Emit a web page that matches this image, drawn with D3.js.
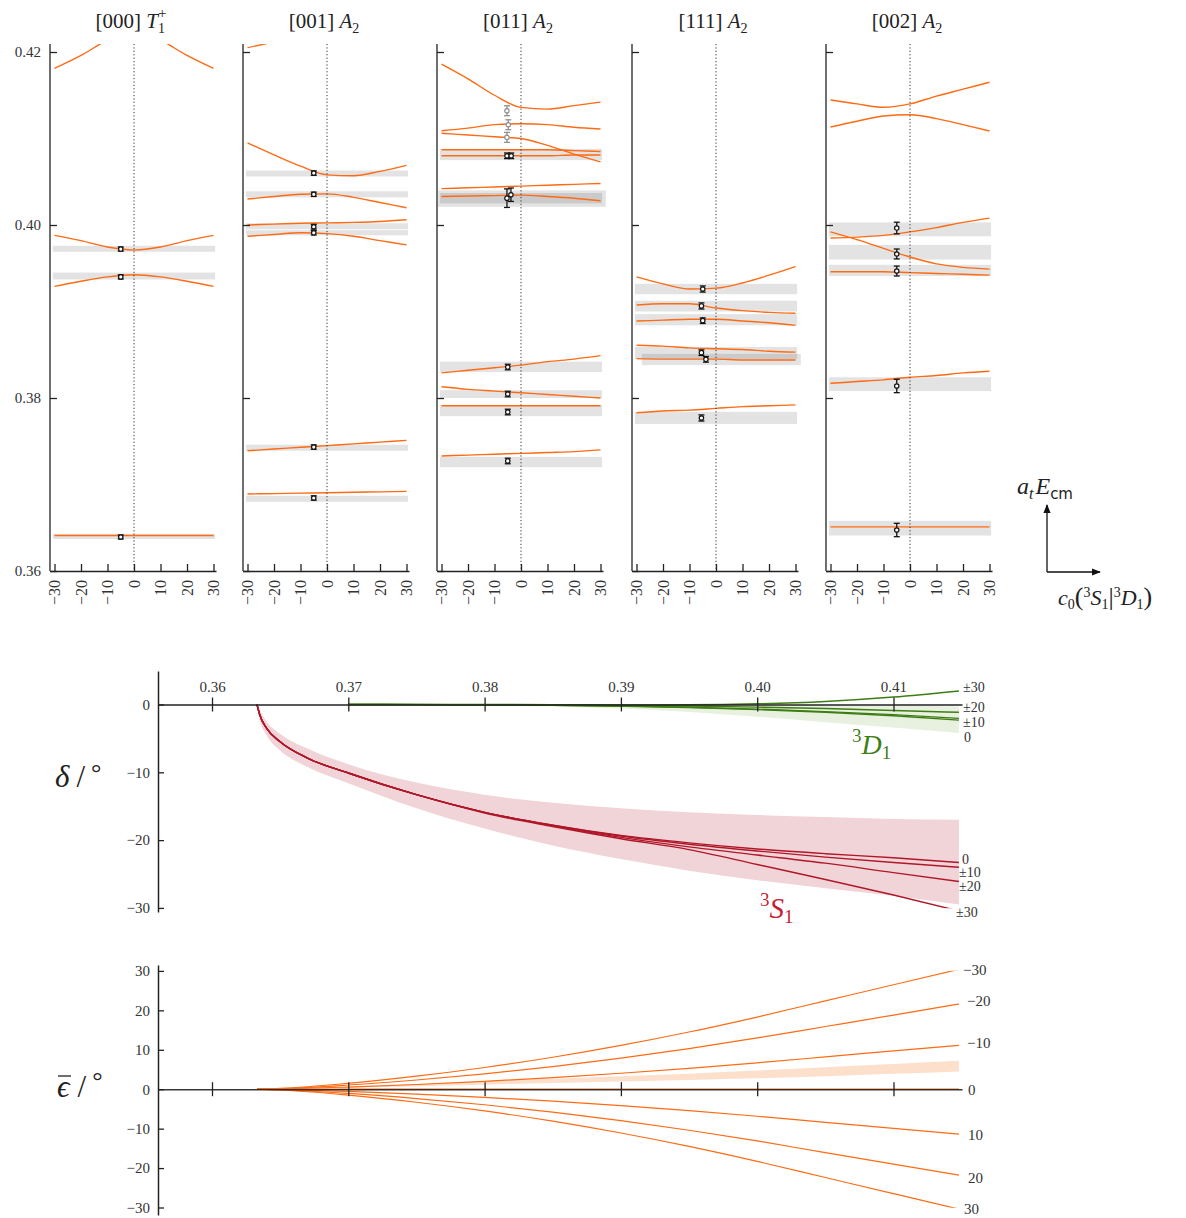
<!DOCTYPE html>
<html>
<head>
<meta charset="utf-8">
<script src="https://cdn.jsdelivr.net/npm/d3@7/dist/d3.min.js"></script>
<style>
html,body{margin:0;padding:0;background:#fff;}
svg{display:block;}
svg text{font-family:"Liberation Serif","DejaVu Serif",serif;}
svg text.sans, svg tspan.sans{font-family:"DejaVu Sans",sans-serif;}
</style>
</head>
<body>
<script>
// ================= DATA =================
// ---- top row: finite-volume energy levels a_t E_cm versus c0 ----
const cGrid = [-30, -20, -10, 0, 10, 20, 30];
const c0Ticks = [-30, -20, -10, 0, 10, 20, 30];
const energyTicks = [0.36, 0.38, 0.40, 0.42];
const panelMomenta = ["[000]", "[001]", "[011]", "[111]", "[002]"];
const irrepLetters = ["T", "A", "A", "A", "A"];
const irrepSubs = ["1", "2", "2", "2", "2"];
const irrepSups = ["+", "", "", "", ""];

const levels000 = [
  [0.4181, 0.4196, 0.4214, 0.4228, 0.4214, 0.4196, 0.4181],
  [0.3988, 0.3982, 0.39745, 0.3971, 0.39745, 0.3982, 0.3988],
  [0.3929, 0.3935, 0.3940, 0.39425, 0.3940, 0.3935, 0.3929],
  [0.3641, 0.3641, 0.3641, 0.3641, 0.3641, 0.3641, 0.3641]
];
const bands000 = [[0.3969, 0.3976], [0.3937, 0.3945], [0.3637, 0.3643]];
const points000 = [[-5, 0.39722, 0.00007], [-5, 0.39400, 0.00007], [-5, 0.36393, 0.00006]];

const levels001 = [
  [0.4205, 0.4212, 0.4222, 0.4232, 0.4240, 0.4250, 0.4260],
  [0.4095, 0.4081, 0.4068, 0.4058, 0.4057, 0.4062, 0.4069],
  [0.4030, 0.4033, 0.40355, 0.4036, 0.4032, 0.4026, 0.4020],
  [0.4000, 0.4001, 0.4002, 0.40025, 0.4003, 0.4004, 0.4006],
  [0.3987, 0.3989, 0.3991, 0.3990, 0.3987, 0.3982, 0.3977],
  [0.3739, 0.3741, 0.3743, 0.3745, 0.3747, 0.3749, 0.3751],
  [0.3689, 0.36895, 0.3690, 0.36905, 0.3691, 0.36915, 0.3692]
];
const bands001 = [[0.4056, 0.4063], [0.4032, 0.4039], [0.3995, 0.4002], [0.3988, 0.3994], [0.3739, 0.3746], [0.3680, 0.3687]];
const points001 = [[-5, 0.4060, 0.00008], [-5, 0.40355, 0.00008], [-5, 0.3998, 0.0001], [-5, 0.3991, 0.00008], [-5, 0.37433, 0.00008], [-5, 0.36844, 0.00008]];

const levels011 = [
  [0.4186, 0.4169, 0.4150, 0.4136, 0.4134, 0.4138, 0.4142],
  [0.4109, 0.4112, 0.4116, 0.4117, 0.4116, 0.4113, 0.4111],
  [0.4106, 0.4104, 0.4102, 0.4100, 0.4092, 0.4082, 0.4073],
  [0.4087, 0.4087, 0.4087, 0.4087, 0.4087, 0.4086, 0.4085],
  [0.4080, 0.4080, 0.4080, 0.4080, 0.4080, 0.4081, 0.4081],
  [0.4042, 0.4043, 0.4044, 0.4045, 0.4046, 0.4047, 0.4048],
  [0.4033, 0.40335, 0.4034, 0.40345, 0.4033, 0.4031, 0.4028],
  [0.3829, 0.3832, 0.3835, 0.3838, 0.3842, 0.3845, 0.3849],
  [0.3813, 0.3810, 0.3808, 0.3806, 0.3804, 0.3802, 0.3800],
  [0.3791, 0.3791, 0.3791, 0.3791, 0.3791, 0.3791, 0.3791],
  [0.3733, 0.3734, 0.3735, 0.3736, 0.3737, 0.3738, 0.3740]
];
const bands011 = [[0.4075, 0.4088], [0.4021, 0.4040, -32, 32], [0.4025, 0.4037], [0.3830, 0.3842], [0.3800, 0.3809], [0.3779, 0.3792], [0.3720, 0.3732]];
const points011 = [[-5.3, 0.4080, 0.00015], [-3.7, 0.4080, 0.00015], [-5.3, 0.4031, 0.0009], [-3.8, 0.4035, 0.0006], [-5, 0.38358, 0.00015], [-5, 0.38046, 0.00015], [-5, 0.37838, 0.00015], [-5, 0.37272, 0.00015]];
const greyPoints011 = [[-5.3, 0.41321, 0.0004], [-4.8, 0.41159, 0.0004], [-5.3, 0.41013, 0.0004]];

const levels111 = [
  [0.3940, 0.3932, 0.3926, 0.3927, 0.3933, 0.3942, 0.3952],
  [0.39075, 0.3909, 0.3909, 0.3904, 0.3901, 0.3899, 0.3898],
  [0.3889, 0.3890, 0.3891, 0.3891, 0.3889, 0.3887, 0.3884],
  [0.3861, 0.3860, 0.3858, 0.3857, 0.3856, 0.3854, 0.3853],
  [0.38455, 0.3845, 0.3845, 0.3845, 0.3844, 0.3844, 0.3844],
  [0.3783, 0.3785, 0.3786, 0.3788, 0.3790, 0.3791, 0.3792]
];
const bands111 = [[0.3920, 0.3932], [0.3900, 0.39125], [0.3884, 0.3897], [0.3845, 0.3859], [0.3838, 0.3851, -28, 32], [0.3770, 0.3784]];
const points111 = [[-5, 0.3926, 0.00018], [-5.5, 0.39064, 0.00018], [-5, 0.38894, 0.00015], [-5.5, 0.38524, 0.00015], [-3.8, 0.38447, 0.00015], [-5.5, 0.37769, 0.00018]];

const levels002 = [
  [0.41445, 0.4140, 0.41361, 0.4140, 0.4149, 0.4157, 0.4165],
  [0.41133, 0.4120, 0.4126, 0.41275, 0.4123, 0.4116, 0.41087],
  [0.3985, 0.3986, 0.3988, 0.3992, 0.3997, 0.4003, 0.4008],
  [0.3992, 0.3983, 0.3973, 0.3963, 0.3955, 0.3951, 0.3949],
  [0.3946, 0.3946, 0.3946, 0.3945, 0.3944, 0.3943, 0.3942],
  [0.3817, 0.3819, 0.3821, 0.3824, 0.3826, 0.3829, 0.3831],
  [0.3651, 0.3651, 0.3651, 0.3651, 0.3651, 0.3651, 0.3651]
];
const bands002 = [[0.3987, 0.4003], [0.3960, 0.3977], [0.3941, 0.3954], [0.3808, 0.3824], [0.3641, 0.3658]];
const points002 = [[-5, 0.39965, 0.0005], [-5, 0.39665, 0.0004], [-5, 0.39468, 0.0004], [-5, 0.38139, 0.0006], [-5, 0.36474, 0.0006]];

// ---- middle: phase shifts delta (degrees) versus a_t E_cm ----
const eTicksPhase = [0.36, 0.37, 0.38, 0.39, 0.40, 0.41];
const deltaTicks = [0, -10, -20, -30];
const eGridS = [0.3633, 0.3635, 0.364, 0.365, 0.367, 0.37, 0.375, 0.38, 0.385, 0.39, 0.395, 0.40, 0.405, 0.41, 0.4148];
const deltaS_c0  = [0, -1.5, -3.5, -5.5, -7.9, -10.1, -13.3, -15.9, -17.8, -19.3, -20.4, -21.3, -22.0, -22.6, -23.3];
const deltaS_c10 = [0, -1.5, -3.5, -5.5, -7.9, -10.1, -13.3, -15.9, -17.8, -19.4, -20.6, -21.6, -22.5, -23.3, -24.0];
const deltaS_c20 = [0, -1.5, -3.5, -5.5, -7.9, -10.1, -13.3, -15.9, -17.9, -19.6, -21.0, -22.2, -23.4, -24.8, -26.1];
const deltaS_c30 = [0, -1.5, -3.5, -5.5, -7.9, -10.1, -13.3, -16.0, -18.0, -19.8, -21.4, -23.6, -25.8, -28.1, -30.45];
const deltaS_hi  = [0, -0.8, -2.5, -4.3, -6.5, -8.8, -11.5, -13.3, -14.5, -15.3, -15.9, -16.3, -16.6, -16.9, -17.0];
const deltaS_lo  = [0, -2.2, -4.5, -6.8, -9.2, -11.6, -15.3, -18.3, -20.8, -22.8, -24.5, -25.9, -27.1, -28.2, -29.5];
const labelsS = ["0", "±10", "±20", "±30"];

const eGridD = [0.37, 0.375, 0.38, 0.385, 0.39, 0.395, 0.40, 0.405, 0.41, 0.4148];
const deltaD_c0  = [0, -0.02, -0.05, -0.12, -0.25, -0.45, -0.75, -1.15, -1.65, -2.3];
const deltaD_c10 = [0, -0.02, -0.05, -0.11, -0.22, -0.40, -0.68, -1.05, -1.5, -2.05];
const deltaD_c20 = [0, -0.01, -0.03, -0.06, -0.12, -0.22, -0.38, -0.6, -0.88, -1.15];
const deltaD_c30 = [0, 0, 0, -0.03, -0.06, -0.04, 0.1, 0.45, 1.1, 2.0];
const deltaD_hi  = [0, 0, 0, -0.01, -0.03, -0.06, -0.1, -0.15, -0.2, -0.3];
const deltaD_lo  = [0, -0.05, -0.12, -0.3, -0.6, -1.1, -1.8, -2.6, -3.4, -4.2];
const labelsD = ["±30", "±20", "±10", "0"];

// ---- bottom: mixing angle epsilon-bar (degrees) versus a_t E_cm ----
const epsTicks = [30, 20, 10, 0, -10, -20, -30];
const eGridEps = [0.3633, 0.365, 0.37, 0.375, 0.38, 0.385, 0.39, 0.395, 0.40, 0.405, 0.41, 0.4148];
const eps_cm30 = [0, 0.2, 1.5, 3.3, 5.5, 8.1, 11.1, 14.5, 18.3, 22.4, 26.5, 30.4];
const eps_cm20 = [0, 0.14, 1.07, 2.34, 3.9, 5.75, 7.9, 10.3, 13.0, 15.9, 18.8, 21.6];
const eps_cm10 = [0, 0.07, 0.55, 1.2, 2.0, 2.96, 4.05, 5.3, 6.7, 8.2, 9.7, 11.1];
const eps_c0   = [0, 0, 0, 0, 0, 0, 0, 0, 0, 0, 0, 0];
const eps_c10  = [0, -0.08, -0.56, -1.24, -2.06, -3.04, -4.16, -5.44, -6.86, -8.4, -9.94, -11.4];
const eps_c20  = [0, -0.14, -1.08, -2.37, -3.94, -5.81, -7.96, -10.4, -13.1, -16.1, -19.0, -21.8];
const eps_c30  = [0, -0.2, -1.5, -3.3, -5.5, -8.1, -11.1, -14.5, -18.3, -22.4, -26.5, -30.4];
const eps_lo   = [0, 0.05, 0.35, 0.75, 1.15, 1.55, 1.95, 2.35, 2.75, 3.3, 3.9, 4.5];
const eps_hi   = [0, 0.1, 0.7, 1.35, 2.0, 2.65, 3.3, 3.95, 4.75, 5.6, 6.4, 7.2];
const labelsEps = ["−30", "−20", "−10", "0", "10", "20", "30"];

// ================= DRAWING =================
const FONT = '"Liberation Serif","DejaVu Serif",serif';
const ORANGE = '#ff6a13';
const RED = '#b0172a';
const GREEN = '#3e7d14';
const AX = '#222';

const svg = d3.select('body').append('svg')
  .attr('width', 1186).attr('height', 1218)
  .attr('font-family', FONT);
const defs = svg.append('defs');

function styleAxis(g, fs) {
  g.attr('font-family', FONT);
  g.selectAll('line').attr('stroke', AX).attr('stroke-width', 1.3);
  g.selectAll('path.domain').attr('stroke', AX).attr('stroke-width', 1.5);
  g.selectAll('text').attr('fill', '#333').attr('font-family', FONT).attr('font-size', fs || 15);
}

// ---------- top panels ----------
const panels = [
  { levels: levels000, bands: bands000, points: points000, grey: [] },
  { levels: levels001, bands: bands001, points: points001, grey: [] },
  { levels: levels011, bands: bands011, points: points011, grey: greyPoints011 },
  { levels: levels111, bands: bands111, points: points111, grey: [] },
  { levels: levels002, bands: bands002, points: points002, grey: [] }
];
const panelX0 = [50, 243, 437, 632, 826];
const yTop = d3.scaleLinear().domain([0.36, 0.42]).range([571, 52]);
const yTopMax = 0.42093;

function drawPoints(g, pts, xs, col) {
  const s = g.append('g').selectAll('g').data(pts).join('g');
  s.append('line').attr('x1', d => xs(d[0])).attr('x2', d => xs(d[0]))
    .attr('y1', d => yTop(d[1] - d[2]) + 1.5).attr('y2', d => yTop(d[1] + d[2]) - 1.5)
    .attr('stroke', col).attr('stroke-width', 1.3);
  [1, -1].forEach(sg => {
    s.append('line').attr('x1', d => xs(d[0]) - 3).attr('x2', d => xs(d[0]) + 3)
      .attr('y1', d => yTop(d[1] + sg * d[2]) - sg * 1.5).attr('y2', d => yTop(d[1] + sg * d[2]) - sg * 1.5)
      .attr('stroke', col).attr('stroke-width', 1.3);
  });
  s.append('circle').attr('cx', d => xs(d[0])).attr('cy', d => yTop(d[1])).attr('r', 2.2)
    .attr('fill', '#fff').attr('stroke', col).attr('stroke-width', 1.2);
}

panels.forEach((p, i) => {
  const x0 = panelX0[i];
  const xs = d3.scaleLinear().domain([-31.7, 30.94]).range([x0, x0 + 166]);
  const g = svg.append('g');
  const clipId = 'clipTop' + i;
  defs.append('clipPath').attr('id', clipId).append('rect')
    .attr('x', x0 + 1).attr('y', yTop(yTopMax)).attr('width', 170)
    .attr('height', yTop(0.36) - yTop(yTopMax));
  const pg = g.append('g').attr('clip-path', `url(#${clipId})`);
  pg.selectAll('rect').data(p.bands).join('rect')
    .attr('x', d => xs(d.length > 2 ? d[2] : -30.6))
    .attr('width', d => xs(d.length > 3 ? d[3] : 30.6) - xs(d.length > 2 ? d[2] : -30.6))
    .attr('y', d => yTop(d[1])).attr('height', d => yTop(d[0]) - yTop(d[1]))
    .attr('fill', '#000').attr('fill-opacity', 0.11);
  const line = d3.line().x((d, j) => xs(cGrid[j])).y(d => yTop(d)).curve(d3.curveMonotoneX);
  pg.selectAll('path').data(p.levels).join('path')
    .attr('d', line).attr('fill', 'none').attr('stroke', ORANGE).attr('stroke-width', 1.4);
  // c0 = 0 dotted line
  g.append('line').attr('x1', xs(0)).attr('x2', xs(0))
    .attr('y1', yTop(yTopMax)).attr('y2', yTop(0.36))
    .attr('stroke', '#333').attr('stroke-width', 1).attr('stroke-dasharray', '1.2,2.2');
  drawPoints(g, p.grey, xs, '#8f8f8f');
  drawPoints(g, p.points, xs, '#111');

  // y axis
  const ya = g.append('g').attr('transform', `translate(${x0},0)`)
    .call(d3.axisLeft(yTop).tickValues(energyTicks).tickSize(-7).tickSizeOuter(0).tickPadding(9)
      .tickFormat(i === 0 ? d3.format('.2f') : () => ''));
  ya.select('path.domain').remove();
  ya.append('line').attr('x1', 0).attr('x2', 0).attr('y1', yTop(yTopMax)).attr('y2', yTop(0.36));
  styleAxis(ya, 15);
  // x axis
  const xa = g.append('g').attr('transform', `translate(0,${yTop(0.36)})`)
    .call(d3.axisBottom(xs).tickValues(c0Ticks).tickSize(-7).tickSizeOuter(0));
  styleAxis(xa, 16);
  xa.selectAll('text').attr('transform', 'rotate(-90)').attr('text-anchor', 'end')
    .attr('x', -9).attr('y', 0).attr('dy', '0.33em');

  // title
  const t = svg.append('text').attr('x', xs(0) - 3).attr('y', 28).attr('text-anchor', 'middle')
    .attr('font-size', 21).attr('fill', '#222');
  t.append('tspan').text(panelMomenta[i] + ' ');
  t.append('tspan').attr('font-style', 'italic').text(irrepLetters[i]);
  t.append('tspan').attr('font-size', 14).attr('dy', 5).text(irrepSubs[i]);
  if (irrepSups[i]) t.append('tspan').attr('font-size', 15).attr('dx', -7).attr('dy', -15).text(irrepSups[i]);
});

// axes legend (top right)
defs.append('marker').attr('id', 'arr').attr('viewBox', '0 0 10 10').attr('refX', 9).attr('refY', 5)
  .attr('markerWidth', 7).attr('markerHeight', 7).attr('orient', 'auto')
  .append('path').attr('d', 'M0,1 L10,5 L0,9 Z').attr('fill', '#111');
svg.append('line').attr('x1', 1047).attr('y1', 572).attr('x2', 1047).attr('y2', 505)
  .attr('stroke', '#111').attr('stroke-width', 1.3).attr('marker-end', 'url(#arr)');
svg.append('line').attr('x1', 1047).attr('y1', 572).attr('x2', 1100).attr('y2', 572)
  .attr('stroke', '#111').attr('stroke-width', 1.3).attr('marker-end', 'url(#arr)');
{
  const a = svg.append('text').attr('x', 1017).attr('y', 494).attr('font-size', 24).attr('fill', '#222');
  a.append('tspan').attr('font-style', 'italic').text('a');
  a.append('tspan').attr('font-style', 'italic').attr('font-size', 16).attr('dy', 5).text('t');
  a.append('tspan').attr('font-style', 'italic').attr('dy', -5).attr('dx', 2).text('E');
  a.append('tspan').attr('class', 'sans').attr('font-size', 15).attr('dy', 5).text('cm');
  const c = svg.append('text').attr('x', 1058).attr('y', 605).attr('font-size', 22).attr('fill', '#222');
  c.append('tspan').attr('font-style', 'italic').text('c');
  c.append('tspan').attr('font-size', 14).attr('dy', 4).text('0');
  c.append('tspan').attr('font-size', 26).attr('dy', -4).text('(');
  c.append('tspan').attr('font-size', 14).attr('dy', -8).text('3');
  c.append('tspan').attr('font-style', 'italic').attr('dy', 8).text('S');
  c.append('tspan').attr('font-size', 14).attr('dy', 4).text('1');
  c.append('tspan').attr('font-size', 26).attr('dy', -4).text('|');
  c.append('tspan').attr('font-size', 14).attr('dy', -8).text('3');
  c.append('tspan').attr('font-style', 'italic').attr('dy', 8).text('D');
  c.append('tspan').attr('font-size', 14).attr('dy', 4).text('1');
  c.append('tspan').attr('font-size', 26).attr('dy', -4).text(')');
}

// ---------- middle: phase shifts ----------
const xE = d3.scaleLinear().domain([0.356038, 0.415026]).range([158, 962]);
const yD = d3.scaleLinear().domain([4.94, -30.6]).range([671, 912]);
{
  const g = svg.append('g');
  defs.append('clipPath').attr('id', 'clipMid').append('rect')
    .attr('x', 158).attr('y', 671).attr('width', 806).attr('height', yD(-30.05) - 671);
  const pg = g.append('g').attr('clip-path', 'url(#clipMid)');
  const areaS = d3.area().x((d, j) => xE(eGridS[j])).y0((d, j) => yD(deltaS_lo[j])).y1((d, j) => yD(deltaS_hi[j])).curve(d3.curveMonotoneX);
  pg.append('path').datum(deltaS_hi).attr('d', areaS).attr('fill', '#f1d4d7');
  const areaD = d3.area().x((d, j) => xE(eGridD[j])).y0((d, j) => yD(deltaD_lo[j])).y1((d, j) => yD(deltaD_hi[j])).curve(d3.curveMonotoneX);
  pg.append('path').datum(deltaD_hi).attr('d', areaD).attr('fill', '#e8f0df');

  const xa = g.append('g').attr('transform', `translate(0,${yD(0)})`)
    .call(d3.axisTop(xE).tickValues(eTicksPhase).tickSize(7).tickSizeOuter(0).tickPadding(5).tickFormat(d3.format('.2f')));
  styleAxis(xa, 15);
  xa.selectAll('.tick line').attr('y1', 7);

  const lineS = d3.line().x((d, j) => xE(eGridS[j])).y(d => yD(d)).curve(d3.curveMonotoneX);
  pg.selectAll('path.s').data([deltaS_c0, deltaS_c10, deltaS_c20, deltaS_c30]).join('path').attr('class', 's')
    .attr('d', lineS).attr('fill', 'none').attr('stroke', RED).attr('stroke-width', 1.4);
  const lineD = d3.line().x((d, j) => xE(eGridD[j])).y(d => yD(d)).curve(d3.curveMonotoneX);
  pg.selectAll('path.d').data([deltaD_c0, deltaD_c10, deltaD_c20, deltaD_c30]).join('path').attr('class', 'd')
    .attr('d', lineD).attr('fill', 'none').attr('stroke', GREEN).attr('stroke-width', 1.4);

  const ya = g.append('g').attr('transform', 'translate(158,0)')
    .call(d3.axisLeft(yD).tickValues(deltaTicks).tickSize(-6).tickSizeOuter(0).tickPadding(8));
  styleAxis(ya, 15);

  // curve labels
  const sLabY = [859, 872.5, 886, 912];
  const sLabX = [962, 959, 959, 956];
  g.selectAll('text.ls').data(labelsS).join('text').attr('class', 'ls')
    .attr('x', (d, j) => sLabX[j]).attr('y', (d, j) => sLabY[j]).attr('dy', '0.33em')
    .attr('font-size', 14).attr('fill', '#333').text(d => d);
  const dLabY = [687, 707.5, 722, 737.5];
  g.selectAll('text.ld').data(labelsD).join('text').attr('class', 'ld')
    .attr('x', (d, j) => (d === '0' ? 964 : 963)).attr('y', (d, j) => dLabY[j]).attr('dy', '0.33em')
    .attr('font-size', 14).attr('fill', '#333').text(d => d);

  const ls = g.append('text').attr('x', 760).attr('y', 918).attr('font-size', 29).attr('fill', '#c41f33');
  ls.append('tspan').attr('font-size', 19).attr('dy', -12).text('3');
  ls.append('tspan').attr('font-style', 'italic').attr('dy', 12).text('S');
  ls.append('tspan').attr('font-size', 19).attr('dy', 5).text('1');
  const ld = g.append('text').attr('x', 852).attr('y', 754).attr('font-size', 28).attr('fill', '#3f7f18');
  ld.append('tspan').attr('font-size', 19).attr('dy', -12).text('3');
  ld.append('tspan').attr('font-style', 'italic').attr('dy', 12).text('D');
  ld.append('tspan').attr('font-size', 19).attr('dy', 5).text('1');

  const yl = g.append('text').attr('x', 55).attr('y', 787).attr('font-size', 31).attr('fill', '#222');
  yl.append('tspan').attr('font-style', 'italic').text('δ');
  yl.append('tspan').attr('dx', 7).text('/');
  yl.append('tspan').attr('dx', 6).attr('dy', -6).attr('font-size', 26).text('°');
}

// ---------- bottom: mixing angle ----------
const yEp = d3.scaleLinear().domain([31.5, -31.9]).range([965, 1215]);
{
  const g = svg.append('g');
  defs.append('clipPath').attr('id', 'clipBot').append('rect')
    .attr('x', 158).attr('y', yEp(30.05)).attr('width', 806).attr('height', yEp(-30.05) - yEp(30.05));
  const pg = g.append('g').attr('clip-path', 'url(#clipBot)');
  const areaE = d3.area().x((d, j) => xE(eGridEps[j])).y0((d, j) => yEp(eps_lo[j])).y1((d, j) => yEp(eps_hi[j])).curve(d3.curveMonotoneX);
  pg.append('path').datum(eps_hi).attr('d', areaE).attr('fill', '#fde0cc');
  const lineE = d3.line().x((d, j) => xE(eGridEps[j])).y(d => yEp(d)).curve(d3.curveMonotoneX);
  pg.selectAll('path.e').data([eps_cm30, eps_cm20, eps_cm10, eps_c0, eps_c10, eps_c20, eps_c30]).join('path').attr('class', 'e')
    .attr('d', lineE).attr('fill', 'none').attr('stroke', ORANGE).attr('stroke-width', 1.2);

  const xa = g.append('g').attr('transform', `translate(0,${yEp(0)})`)
    .call(d3.axisTop(xE).tickValues(eTicksPhase).tickSize(7).tickSizeOuter(0).tickFormat(() => ''));
  styleAxis(xa, 15);
  xa.selectAll('.tick line').attr('y1', 7);
  xa.select('path.domain').attr('stroke-opacity', 0.9);

  const ya = g.append('g').attr('transform', 'translate(158,0)')
    .call(d3.axisLeft(yEp).tickValues(epsTicks).tickSize(-6).tickSizeOuter(0).tickPadding(8));
  styleAxis(ya, 15);

  const eLabY = [970, 1001, 1043, 1090, 1135, 1178, 1209];
  const eLabX = [963, 967, 967, 968, 968, 968, 964];
  g.selectAll('text.le').data(labelsEps).join('text').attr('class', 'le')
    .attr('x', (d, j) => eLabX[j]).attr('y', (d, j) => eLabY[j]).attr('dy', '0.33em')
    .attr('font-size', 15).attr('fill', '#333').text(d => d);

  const yl = g.append('text').attr('x', 57).attr('y', 1097).attr('font-size', 31).attr('fill', '#222');
  yl.append('tspan').attr('font-style', 'italic').text('ϵ');
  yl.append('tspan').attr('dx', 8).text('/');
  yl.append('tspan').attr('dx', 6).attr('dy', -8).attr('font-size', 26).text('°');
  g.append('line').attr('x1', 58).attr('x2', 71).attr('y1', 1076).attr('y2', 1076).attr('stroke', '#222').attr('stroke-width', 1.3);
}
</script>
</body>
</html>
